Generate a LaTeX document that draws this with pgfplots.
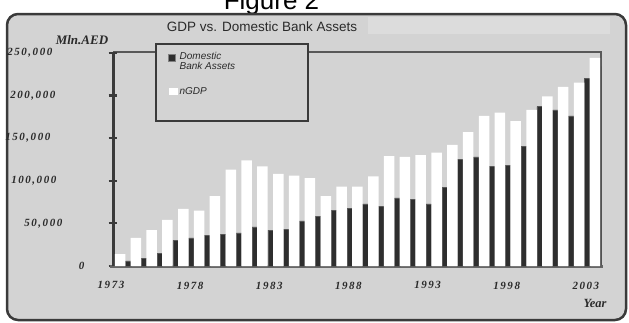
\documentclass[border=0pt]{standalone}
\usepackage{fontspec}
\setmainfont{Liberation Sans}
\newfontfamily\tickfont[LetterSpace=14]{Liberation Serif}
\newfontfamily\labfont{Liberation Serif}
\usepackage{pgfplots}
\usepackage{pgfplotstable}
\pgfplotsset{compat=1.18}
\definecolor{bg}{HTML}{D3D3D3}
\definecolor{bglight}{HTML}{DCDCDC}
\definecolor{darkbar}{HTML}{2E2E2E}
\definecolor{axisdark}{HTML}{3A3A3A}
\definecolor{axisgray}{HTML}{666666}
\definecolor{txt}{HTML}{2A2A2A}

% values in thousands of Mln. AED
\pgfplotstableread{
year gdp bank
1973 14 6
1974 33 9
1975 42 15
1976 54 30
1977 67 33
1978 65 36
1979 82 37
1980 113 39
1981 124 46
1982 117 42
1983 108 43
1984 106 53
1985 103 58
1986 82 65
1987 93 68
1988 93 73
1989 105 70
1990 129 80
1991 128 78
1992 130 73
1993 133 92
1994 142 125
1995 157 128
1996 176 117
1997 180 118
1998 170 140
1999 183 187
2000 199 183
2001 210 176
2002 215 220
2003 244 234
}\datatable

\begin{document}
\begin{tikzpicture}
\fill[white] (0pt,0pt) rectangle (629pt,-322pt);
\begin{scope}[x=1pt,y=-1pt]
  \node[font=\fontsize{26}{30}\selectfont, anchor=base] at (271.5,9) {Figure 2};
  \draw[fill=bg, draw=axisdark, line width=2.5pt, rounded corners=11pt] (7,14) rectangle (626,320);
  \fill[bglight] (368,17) rectangle (610,34);
  \node[font=\fontsize{13.5}{16}\selectfont, text=txt] at (262,27) {GDP vs. Domestic Bank Assets};
  \node[font=\labfont\bfseries\itshape\fontsize{13}{15}\selectfont, text=txt] at (82,40) {Mln.AED};
  \node[font=\labfont\bfseries\itshape\fontsize{12.5}{15}\selectfont, text=txt] at (595,303) {Year};
  % plot frame
  \draw[draw=axisdark!85!white, line width=1.3pt] (113,52) -- (601,52) -- (601,266);
  % legend box
  \draw[fill=bg, draw=axisdark, line width=2.5pt] (156,44) rectangle (308,121);
\end{scope}
\begin{axis}[
  at={(113pt,-266pt)}, anchor=south west,
  scale only axis, width=488pt, height=214pt,
  xmin=1973, xmax=2003.83, ymin=0, ymax=251,
  axis x line*=bottom, axis y line*=left,
  x axis line style={-, line width=3pt, draw=axisgray, shorten <=-3pt, shorten >=-2pt},
  y axis line style={-, line width=3pt, draw=axisdark},
  tick align=center, major tick length=9pt,
  ytick={0,50,100,150,200,250},
  yticklabels={{0\hspace*{24pt}},{50,000\hspace*{46pt}},{100,000\hspace*{52pt}},{150,000\hspace*{58pt}},{200,000\hspace*{53pt}},{250,000\hspace*{56pt}}},
  ytick style={line width=2.2pt, draw=axisdark},
  xtick={1973,1978,1983,1988,1993,1998,2003},
  xticklabels={1973,1978,1983,1988,1993,1998,2003},
  xtick style={draw=none},
  ticklabel style={font=\tickfont\bfseries\itshape\fontsize{11}{13}\selectfont, text=txt},
  yticklabel style={anchor=east, inner sep=0pt},
  xticklabel style={anchor=north, inner sep=0pt, yshift=-11pt, xshift=-2pt},
  legend style={at={(axis description cs:0.113,1.009)}, anchor=north west, draw=none, fill=none,
    font=\itshape\fontsize{10}{12.5}\selectfont, text=txt, row sep=12pt, inner sep=0pt},
  legend cell align=left,
]
\addplot[ybar, bar width=5.5pt, bar shift=15pt, fill=darkbar, draw=darkbar!80!white, line width=0.4pt,
  legend image code/.code={\draw[fill=darkbar, draw=gray, line width=0.6pt] (0pt,1pt) rectangle (7pt,8pt); \path (0pt,-9pt);}]
  table[x=year, y=bank] {\datatable};
\addlegendentry{\shortstack[l]{Domestic\\Bank Assets}}
\addplot[ybar, bar width=10.5pt, bar shift=7pt, fill=white, draw=none,
  legend image code/.code={\fill[white] (0pt,-3.5pt) rectangle (9pt,3.5pt);}]
  table[x=year, y=gdp] {\datatable};
\addlegendentry{nGDP}
\end{axis}
\pgfresetboundingbox
\useasboundingbox (0pt,0pt) rectangle (629pt,-322pt);
\end{tikzpicture}
\end{document}
